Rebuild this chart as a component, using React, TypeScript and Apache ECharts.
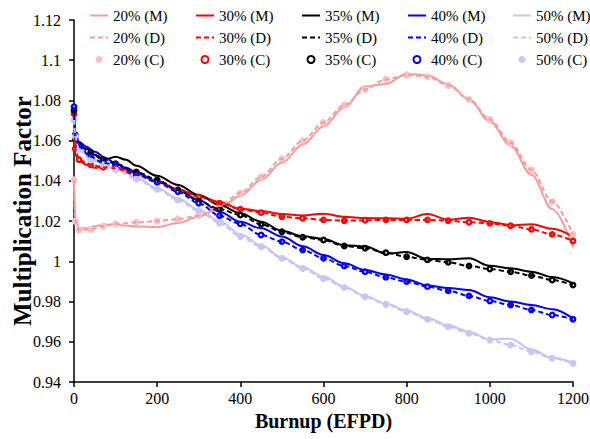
import React, { useEffect, useRef } from "react";
import * as echarts from "echarts";

// Burnup (EFPD) grids
const burnupM = [0, 3, 12, 30, 50, 75, 100, 125, 150, 200, 250, 300, 350, 400, 450, 500, 550, 600, 650, 700, 750, 800, 850, 900, 950, 1000, 1050, 1100, 1150, 1200];
const burnupC = [0, 3, 12, 40, 70, 100, 150, 200, 250, 300, 350, 400, 450, 500, 550, 600, 650, 700, 750, 800, 850, 900, 950, 1000, 1050, 1100, 1150, 1200];

// (M) series
const m20 = [1.040, 1.022, 1.0165, 1.0165, 1.0175, 1.0183, 1.0182, 1.0178, 1.0173, 1.0170, 1.0190, 1.0222, 1.0265, 1.0325, 1.0405, 1.049, 1.058, 1.067, 1.0765, 1.087, 1.0882, 1.0932, 1.0925, 1.088, 1.0805, 1.0695, 1.0575, 1.043, 1.026, 1.007];
const m30 = [1.073, 1.053, 1.050, 1.048, 1.0465, 1.047, 1.0468, 1.0455, 1.0435, 1.040, 1.0358, 1.0325, 1.0295, 1.0262, 1.025, 1.0235, 1.0228, 1.0237, 1.0222, 1.0215, 1.0214, 1.0212, 1.0235, 1.0207, 1.0217, 1.0196, 1.018, 1.0185, 1.0162, 1.0122];
const m35 = [1.075, 1.062, 1.0587, 1.056, 1.053, 1.0505, 1.052, 1.0505, 1.0475, 1.0425, 1.038, 1.033, 1.028, 1.0239, 1.0197, 1.0152, 1.0125, 1.0111, 1.008, 1.0075, 1.0038, 1.0046, 1.0012, 1.001, 1.0015, 0.9978, 0.9965, 0.9948, 0.9922, 0.989];
const m40 = [1.077, 1.0625, 1.0595, 1.057, 1.0545, 1.0515, 1.0487, 1.0465, 1.0442, 1.0396, 1.0355, 1.0305, 1.0247, 1.0197, 1.0164, 1.0123, 1.0075, 1.0032, 0.999, 0.9957, 0.9935, 0.991, 0.988, 0.9868, 0.9857, 0.9821, 0.98, 0.9783, 0.9762, 0.9716];
const m50 = [1.070, 1.061, 1.0565, 1.053, 1.0505, 1.048, 1.0462, 1.044, 1.0416, 1.0363, 1.0313, 1.0258, 1.020, 1.0135, 1.008, 1.002, 0.997, 0.9924, 0.9874, 0.9828, 0.979, 0.9755, 0.9718, 0.9682, 0.965, 0.9612, 0.9615, 0.9562, 0.952, 0.9495];

// (C) series
const c20 = [1.0405, 1.020, 1.0155, 1.0158, 1.0175, 1.0186, 1.0194, 1.0200, 1.0210, 1.0227, 1.0275, 1.034, 1.042, 1.051, 1.060, 1.069, 1.0777, 1.0855, 1.0905, 1.0927, 1.0918, 1.0875, 1.0806, 1.0706, 1.059, 1.0454, 1.0297, 1.0134];
const c30 = [1.0733, 1.056, 1.0505, 1.048, 1.0468, 1.0462, 1.0430, 1.0395, 1.0355, 1.0320, 1.0289, 1.0259, 1.0242, 1.0222, 1.0214, 1.0206, 1.0202, 1.0204, 1.0206, 1.0206, 1.0206, 1.0202, 1.0194, 1.0189, 1.0177, 1.0159, 1.0134, 1.0101];
const c35 = [1.075, 1.061, 1.0575, 1.054, 1.0505, 1.0485, 1.0445, 1.0405, 1.0355, 1.0300, 1.0260, 1.0230, 1.0184, 1.0147, 1.0120, 1.0106, 1.0076, 1.0065, 1.0043, 1.0023, 1.0007, 0.9995, 0.9977, 0.9962, 0.9948, 0.9929, 0.9907, 0.9882];
const c40 = [1.0769, 1.063, 1.057, 1.052, 1.049, 1.048, 1.0432, 1.0393, 1.0346, 1.0289, 1.0227, 1.0186, 1.0131, 1.0098, 1.0056, 1.0015, 0.9977, 0.9948, 0.992, 0.9899, 0.9874, 0.9853, 0.9828, 0.9803, 0.9783, 0.9758, 0.9733, 0.9712];
const c50 = [1.0703, 1.062, 1.0555, 1.0504, 1.048, 1.0455, 1.041, 1.0358, 1.0305, 1.025, 1.019, 1.0123, 1.0073, 1.0015, 0.9965, 0.9915, 0.987, 0.9824, 0.9786, 0.975, 0.9712, 0.9675, 0.9642, 0.9609, 0.9584, 0.9551, 0.9518, 0.9493];

// (D) series (same burnup steps as C)
const d20 = c20;
const d30 = c30;
const d35 = c35;
const d40 = c40;
const d50 = c50;

const groups = ["20%", "30%", "35%", "40%", "50%"];
const mData = [m20, m30, m35, m40, m50];
const dData = [d20, d30, d35, d40, d50];
const cData = [c20, c30, c35, c40, c50];

const lineColors = ["#F79C9C", "#FF0000", "#000000", "#0000FF", "#C4C4F6"];
const markerColors = ["#F9C2C2", "#FF0000", "#000000", "#0000FF", "#C8C8F6"];
const hollow = [false, true, true, true, false];
const legendLeft = [85, 191, 297, 403, 508];

const FONT = "Liberation Serif, Times New Roman, serif";

export default function App() {
  const ref = useRef<HTMLDivElement>(null);
  useEffect(() => {
    const chart = echarts.init(ref.current!, null, { renderer: "svg" });
    const series: any[] = [];
    groups.forEach((g, i) => {
      series.push({
        name: `${g} (M)`,
        type: "line",
        data: burnupM.map((x, k) => [x, mData[i][k]]),
        symbol: "none",
        smooth: 0.35,
        smoothMonotone: "x",
        lineStyle: { color: lineColors[i], width: 2, type: "solid" },
        itemStyle: { color: lineColors[i] },
        z: 2,
      });
      series.push({
        name: `${g} (D)`,
        type: "line",
        data: burnupC.map((x, k) => [x, dData[i][k]]),
        symbol: "none",
        smooth: 0.3,
        smoothMonotone: "x",
        lineStyle: { color: lineColors[i], width: 2, type: [5, 3] },
        itemStyle: { color: lineColors[i] },
        z: 4,
      });
      series.push({
        name: `${g} (C)`,
        type: "scatter",
        data: burnupC.map((x, k) => [x, cData[i][k]]),
        symbol: "circle",
        symbolSize: hollow[i] ? 4.5 : 7,
        itemStyle: hollow[i]
          ? { color: "#ffffff", borderColor: markerColors[i], borderWidth: 2.3, opacity: 1 }
          : { color: markerColors[i], borderWidth: 0, opacity: 1 },
        z: 3,
      });
    });

    const option: any = {
      animation: false,
      backgroundColor: "#ffffff",
      textStyle: { fontFamily: FONT },
      grid: {
        left: 74,
        right: 17,
        top: 20,
        bottom: 57,
        containLabel: false,
        outerBoundsMode: "none",
      },
      graphic: [
        {
          type: "text",
          x: 22,
          y: 211,
          rotation: Math.PI / 2,
          style: {
            text: "Multiplication Factor",
            fontFamily: FONT,
            fontSize: 25,
            fontWeight: "bold",
            fill: "#000",
            align: "center",
            verticalAlign: "middle",
          },
        },
      ],
      legend: groups.map((g, i) => ({
        data: [
          { name: `${g} (M)`, itemStyle: { opacity: 0 } },
          { name: `${g} (D)`, itemStyle: { opacity: 0 } },
          { name: `${g} (C)` },
        ],
        orient: "vertical",
        left: legendLeft[i] - 1,
        top: 3,
        itemWidth: 18,
        itemHeight: 7,
        itemGap: 7,
        selectedMode: false,
        textStyle: { fontFamily: FONT, fontSize: 15, color: "#000" },
      })),
      xAxis: {
        type: "value",
        min: 0,
        max: 1200,
        interval: 200,
        name: "Burnup (EFPD)",
        nameLocation: "middle",
        nameGap: 28,
        nameTextStyle: { fontFamily: FONT, fontSize: 20, fontWeight: "bold", color: "#000" },
        axisLine: { lineStyle: { color: "#000", width: 1.5 } },
        axisTick: { inside: false, length: 5, lineStyle: { color: "#000", width: 1.5 } },
        axisLabel: {
          fontFamily: FONT,
          fontSize: 16,
          color: "#000",
          margin: 8,
          formatter: (v: number) => String(Math.round(v)),
        },
        splitLine: { show: false },
      },
      yAxis: {
        type: "value",
        min: 0.94,
        max: 1.12,
        interval: 0.02,
        axisLine: { lineStyle: { color: "#000", width: 1.5 } },
        axisTick: { inside: false, length: 5, lineStyle: { color: "#000", width: 1.5 } },
        axisLabel: {
          fontFamily: FONT,
          fontSize: 16,
          color: "#000",
          margin: 13,
          formatter: (v: number) => String(parseFloat(v.toFixed(2))),
        },
        splitLine: { show: false },
      },
      series,
    };
    chart.setOption(option);
    return () => chart.dispose();
  }, []);
  return (
    <div
      ref={ref}
      style={{ position: "absolute", left: 0, top: 0, width: 590, height: 439 }}
    />
  );
}
